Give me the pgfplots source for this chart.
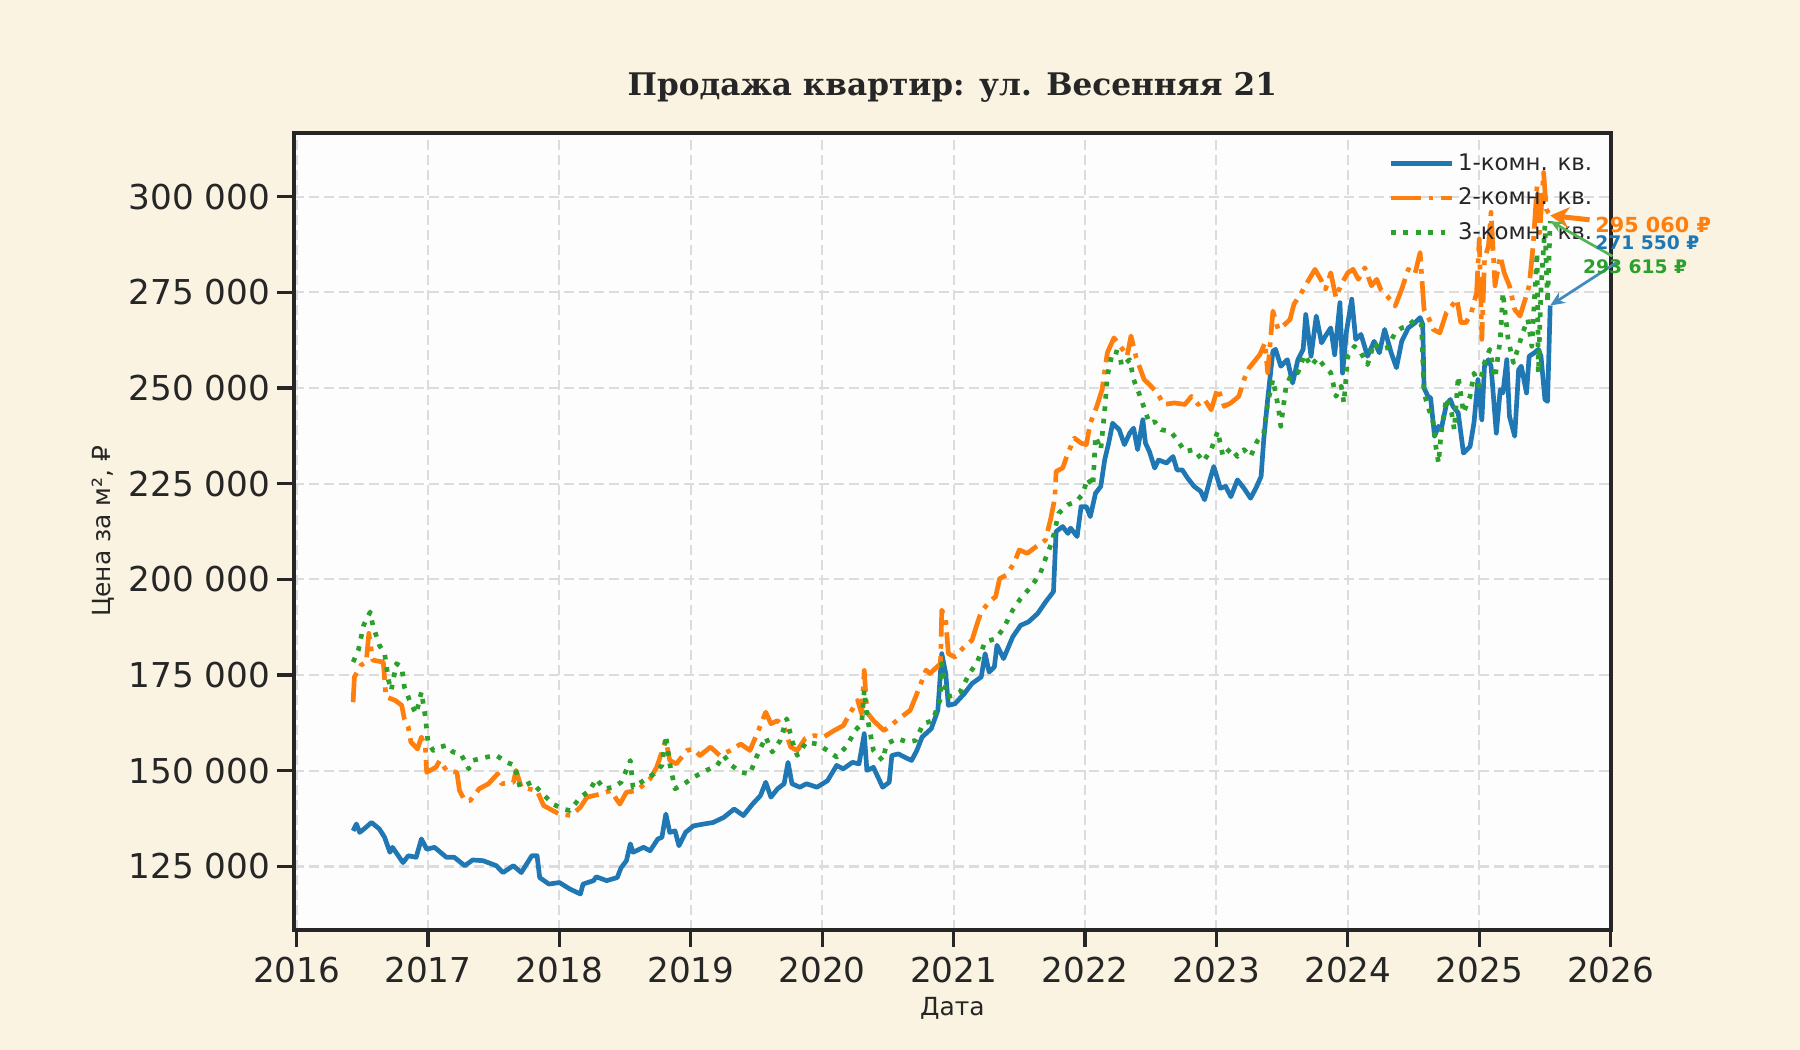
\documentclass[border=0pt]{standalone}
\usepackage{pgfplots}
\pgfplotsset{compat=1.18}
\usetikzlibrary{arrows.meta}
\usepackage{fontspec}
\setmainfont{DejaVu Sans}
\newfontfamily\titlefont{DejaVu Serif}
\definecolor{bgcream}{HTML}{FAF3E1}
\definecolor{axface}{HTML}{FDFDFD}
\definecolor{ink}{HTML}{262626}
\definecolor{gridc}{HTML}{DCDCDC}
\definecolor{c1}{HTML}{1F77B4}
\definecolor{c2}{HTML}{FF7F0E}
\definecolor{c3}{HTML}{2CA02C}

\begin{document}
\begin{tikzpicture}
\fill[bgcream] (0,0) rectangle (864bp,504bp);
\useasboundingbox (0,0) rectangle (864bp,504bp);
\begin{axis}[
  at={(141.1bp,57.6bp)}, anchor=south west,
  scale only axis, width=632bp, height=382.7bp,
  xmin=2015.98, xmax=2026.0,
  ymin=108.4, ymax=316.7,
  axis background/.style={fill=axface},
  axis line style={ink, line width=1.875bp},
  tick align=outside, xtick pos=lower, ytick pos=left,
  major tick length=8bp,
  every tick/.style={ink, line width=1.6bp},
  xtick={2016,2017,2018,2019,2020,2021,2022,2023,2024,2025,2026},
  xticklabels={2016,2017,2018,2019,2020,2021,2022,2023,2024,2025,2026},
  ytick={125,150,175,200,225,250,275,300},
  yticklabels={125 000,150 000,175 000,200 000,225 000,250 000,275 000,300 000},
  tick label style={font=\fontsize{16.5}{19}\selectfont, text=ink},
  xticklabel style={yshift=-1.5bp},
  grid=major,
  major grid style={gridc, line width=1bp, dash pattern=on 5bp off 2.2bp},
  legend style={at={(rel axis cs:1,1)}, anchor=north east, xshift=-6.7bp, yshift=-7.8bp,
    draw=none, fill=none, inner sep=0pt, row sep=3bp,
    font=\fontsize{11}{13}\selectfont, text=ink},
  legend cell align=left,
  legend image code/.code={\draw[#1] (0bp,0bp) -- (24bp,0bp); \path (0bp,0bp) -- (29bp,0bp);},
]
\addplot[c1, line width=2.25bp, line join=round] coordinates {
(2016.43,134.3) (2016.455,136.1) (2016.48,133.9) (2016.52,135.0) (2016.57,136.5)
(2016.63,134.8) (2016.67,132.6) (2016.71,128.7) (2016.73,130.0) (2016.78,127.5)
(2016.81,126.0) (2016.85,127.8) (2016.91,127.4) (2016.95,132.2) (2016.99,129.5)
(2017.05,130.0) (2017.14,127.4) (2017.20,127.4) (2017.28,125.2) (2017.34,126.7)
(2017.42,126.5) (2017.52,125.2) (2017.57,123.4) (2017.65,125.2) (2017.71,123.4)
(2017.79,127.8) (2017.83,127.8) (2017.85,122.1) (2017.92,120.4) (2018.00,120.8)
(2018.08,119.1) (2018.16,117.8) (2018.18,120.4) (2018.26,121.3) (2018.28,122.3)
(2018.36,121.3) (2018.44,122.1) (2018.47,124.7) (2018.51,126.5) (2018.54,130.9)
(2018.56,128.7) (2018.64,130.0) (2018.69,129.1) (2018.75,132.2) (2018.78,132.6)
(2018.81,138.7) (2018.84,133.9) (2018.88,134.3) (2018.91,130.4) (2018.96,133.9)
(2019.02,135.6) (2019.10,136.1) (2019.17,136.5) (2019.25,137.8) (2019.33,140.0)
(2019.40,138.3) (2019.47,141.3) (2019.53,143.5) (2019.57,147.0) (2019.61,143.1)
(2019.66,145.3) (2019.71,146.6) (2019.74,152.2) (2019.77,146.6) (2019.83,145.7)
(2019.88,146.6) (2019.96,145.7) (2020.04,147.4) (2020.11,151.4) (2020.16,150.5)
(2020.23,152.2) (2020.28,151.8) (2020.32,159.7) (2020.34,150.1) (2020.39,150.9)
(2020.46,145.7) (2020.51,147.0) (2020.53,154.0) (2020.58,154.4) (2020.63,153.5)
(2020.68,152.7) (2020.72,155.3) (2020.76,158.8) (2020.83,161.0) (2020.88,165.8)
(2020.91,180.6) (2020.94,175.4) (2020.96,167.1) (2021.01,167.5) (2021.08,170.1)
(2021.14,172.8) (2021.21,174.5) (2021.24,180.6) (2021.27,175.8) (2021.31,177.1)
(2021.33,182.8) (2021.38,179.3) (2021.45,185.0) (2021.51,188.0) (2021.57,188.9)
(2021.64,191.1) (2021.70,194.1) (2021.76,196.8) (2021.78,212.5) (2021.83,213.8)
(2021.87,212.0) (2021.89,213.4) (2021.94,211.2) (2021.97,219.0) (2022.01,219.0)
(2022.04,216.4) (2022.08,222.5) (2022.12,224.3) (2022.15,231.3) (2022.18,235.6)
(2022.21,240.8) (2022.26,239.1) (2022.30,235.2) (2022.34,238.2) (2022.37,239.5)
(2022.40,233.9) (2022.44,241.7) (2022.46,235.6) (2022.49,233.4) (2022.53,229.1)
(2022.56,231.2) (2022.62,230.4) (2022.67,232.1) (2022.70,228.6) (2022.74,228.6)
(2022.78,226.5) (2022.83,224.3) (2022.88,223.0) (2022.91,220.8) (2022.95,226.0)
(2022.98,229.5) (2023.03,223.8) (2023.07,224.3) (2023.11,221.6) (2023.16,226.0)
(2023.21,223.8) (2023.26,221.2) (2023.30,223.8) (2023.34,226.9) (2023.36,236.5)
(2023.39,247.0) (2023.43,259.6) (2023.45,260.1) (2023.49,255.7) (2023.54,257.4)
(2023.58,251.3) (2023.62,257.4) (2023.66,260.1) (2023.68,269.2) (2023.72,258.3)
(2023.76,268.8) (2023.80,261.8) (2023.83,263.6) (2023.87,265.7) (2023.90,258.7)
(2023.94,272.3) (2023.96,253.9) (2023.99,264.9) (2024.03,273.2) (2024.06,262.7)
(2024.10,264.0) (2024.15,258.3) (2024.20,262.2) (2024.24,259.2) (2024.28,265.3)
(2024.33,259.2) (2024.37,255.3) (2024.41,262.2) (2024.46,265.7) (2024.51,267.0)
(2024.55,268.4) (2024.57,266.6) (2024.58,250.0) (2024.61,247.8) (2024.63,247.4)
(2024.66,237.4) (2024.69,240.0) (2024.71,239.1) (2024.75,245.7) (2024.78,247.0)
(2024.80,245.2) (2024.84,243.5) (2024.88,233.0) (2024.93,234.7) (2024.96,240.9)
(2024.99,252.2) (2025.02,241.7) (2025.04,255.7) (2025.07,257.4) (2025.09,255.7)
(2025.13,238.2) (2025.16,249.6) (2025.18,248.7) (2025.21,257.4) (2025.23,242.6)
(2025.27,237.4) (2025.30,254.8) (2025.32,255.7) (2025.36,248.7) (2025.38,258.3)
(2025.42,259.2) (2025.45,260.1) (2025.47,258.3) (2025.50,247.0) (2025.52,246.5)
(2025.54,271.55)
};
\addlegendentry{1-комн. кв.}
\addplot[c2, line width=2.25bp, line join=round, dash pattern=on 14.4bp off 3.6bp on 2.25bp off 3.6bp] coordinates {
(2016.43,167.9) (2016.44,174.5) (2016.49,177.6) (2016.53,178.4) (2016.55,185.9)
(2016.58,178.9) (2016.66,178.4) (2016.68,169.3) (2016.75,168.4) (2016.80,167.1)
(2016.82,163.6) (2016.85,161.4) (2016.87,157.5) (2016.92,155.7) (2016.95,158.8)
(2016.98,156.2) (2016.99,149.6) (2017.06,150.9) (2017.09,152.7) (2017.14,150.1)
(2017.22,149.6) (2017.24,144.8) (2017.28,142.2) (2017.32,142.2) (2017.39,145.3)
(2017.46,146.6) (2017.53,149.2) (2017.56,146.6) (2017.65,147.0) (2017.67,150.1)
(2017.71,145.7) (2017.83,144.8) (2017.88,140.9) (2017.95,139.6) (2018.00,138.7)
(2018.09,138.3) (2018.16,140.5) (2018.21,143.1) (2018.31,143.9) (2018.39,144.8)
(2018.46,141.3) (2018.51,144.4) (2018.59,144.8) (2018.69,147.9) (2018.74,150.9)
(2018.81,157.9) (2018.84,152.7) (2018.89,151.8) (2018.97,155.3) (2019.02,155.7)
(2019.07,154.0) (2019.15,156.2) (2019.22,154.0) (2019.30,155.3) (2019.38,157.0)
(2019.45,155.3) (2019.52,161.0) (2019.57,165.3) (2019.61,162.3) (2019.66,163.1)
(2019.71,161.4) (2019.76,156.2) (2019.81,155.3) (2019.87,158.4) (2019.94,159.2)
(2020.01,158.8) (2020.09,160.5) (2020.16,161.8) (2020.21,164.9) (2020.27,168.4)
(2020.30,164.9) (2020.32,176.2) (2020.34,165.3) (2020.39,163.1) (2020.47,160.5)
(2020.52,161.8) (2020.60,164.0) (2020.67,165.8) (2020.72,170.1) (2020.79,176.3)
(2020.82,175.4) (2020.90,178.0) (2020.91,192.0) (2020.94,189.4) (2020.96,180.6)
(2021.01,179.7) (2021.08,182.4) (2021.14,184.1) (2021.18,188.5) (2021.21,191.5)
(2021.27,194.1) (2021.32,195.5) (2021.35,200.2) (2021.40,201.1) (2021.46,204.2)
(2021.50,207.7) (2021.56,206.8) (2021.63,208.6) (2021.70,210.3) (2021.74,216.0)
(2021.77,221.2) (2021.78,228.2) (2021.83,229.1) (2021.87,233.0) (2021.92,236.9)
(2021.97,235.6) (2022.01,235.2) (2022.04,240.8) (2022.09,245.2) (2022.13,249.6)
(2022.17,259.2) (2022.22,263.1) (2022.27,260.9) (2022.32,258.3) (2022.35,263.6)
(2022.39,257.9) (2022.45,252.2) (2022.49,250.9) (2022.55,248.7) (2022.60,245.7)
(2022.68,246.1) (2022.76,245.7) (2022.81,247.8) (2022.86,245.7) (2022.91,247.0)
(2022.96,244.3) (2023.01,250.0) (2023.06,245.2) (2023.11,246.1) (2023.17,247.8)
(2023.21,252.2) (2023.25,255.3) (2023.29,257.0) (2023.33,258.7) (2023.37,261.8)
(2023.39,254.0) (2023.43,270.1) (2023.47,265.3) (2023.52,266.6) (2023.56,267.9)
(2023.59,271.9) (2023.64,274.5) (2023.69,277.5) (2023.75,281.0) (2023.80,278.0)
(2023.83,275.8) (2023.87,280.1) (2023.91,273.6) (2023.95,277.1) (2024.00,280.1)
(2024.04,281.0) (2024.08,278.4) (2024.13,281.4) (2024.18,276.7) (2024.22,278.4)
(2024.25,275.8) (2024.30,274.0) (2024.36,271.4) (2024.41,275.8) (2024.46,281.0)
(2024.51,279.7) (2024.55,285.4) (2024.58,270.5) (2024.62,267.9) (2024.65,265.3)
(2024.70,264.4) (2024.75,269.7) (2024.79,271.4) (2024.83,273.2) (2024.86,267.1)
(2024.90,267.1) (2024.94,269.7) (2024.98,274.9) (2025.00,288.9) (2025.02,262.7)
(2025.04,283.6) (2025.07,287.1) (2025.09,295.9) (2025.12,276.7) (2025.16,284.5)
(2025.19,280.1) (2025.23,276.7) (2025.27,270.5) (2025.31,268.8) (2025.35,273.2)
(2025.38,276.7) (2025.41,287.1) (2025.44,302.8) (2025.46,290.6) (2025.49,306.3)
(2025.51,296.7) (2025.54,295.06)
};
\addlegendentry{2-комн. кв.}
\addplot[c3, line width=2.25bp, line join=round, dash pattern=on 2.25bp off 3.7bp] coordinates {
(2016.43,178.4) (2016.47,181.5) (2016.51,188.0) (2016.56,191.5) (2016.58,188.0)
(2016.63,182.8) (2016.67,180.6) (2016.70,173.6) (2016.72,171.0) (2016.76,178.0)
(2016.80,177.1) (2016.82,171.9) (2016.87,167.5) (2016.91,164.9) (2016.95,170.6)
(2016.98,164.0) (2017.00,157.5) (2017.04,155.3) (2017.09,156.2) (2017.14,156.6)
(2017.19,154.9) (2017.25,154.4) (2017.31,150.5) (2017.34,152.7) (2017.45,153.6)
(2017.52,154.0) (2017.60,152.2) (2017.66,151.4) (2017.70,145.7) (2017.79,147.0)
(2017.85,144.8) (2017.95,141.3) (2018.03,140.0) (2018.08,139.6) (2018.16,143.1)
(2018.23,144.8) (2018.28,147.9) (2018.34,145.3) (2018.41,145.7) (2018.47,147.0)
(2018.54,152.7) (2018.56,145.7) (2018.64,147.4) (2018.72,149.2) (2018.78,151.4)
(2018.81,159.2) (2018.84,151.8) (2018.88,145.3) (2018.95,146.6) (2019.02,148.3)
(2019.12,150.1) (2019.20,151.4) (2019.25,154.0) (2019.31,151.4) (2019.38,149.6)
(2019.45,149.2) (2019.50,153.6) (2019.57,158.8) (2019.62,154.9) (2019.68,157.9)
(2019.73,163.6) (2019.77,157.9) (2019.81,154.0) (2019.88,157.5) (2019.96,157.0)
(2020.04,155.3) (2020.11,153.6) (2020.19,156.6) (2020.25,160.5) (2020.30,162.3)
(2020.32,171.0) (2020.34,164.5) (2020.39,155.3) (2020.46,152.7) (2020.49,157.0)
(2020.57,158.4) (2020.65,157.5) (2020.71,157.9) (2020.77,162.3) (2020.84,163.1)
(2020.90,168.8) (2020.91,178.0) (2020.95,169.3) (2021.00,169.7) (2021.05,170.6)
(2021.12,175.4) (2021.18,178.4) (2021.24,183.7) (2021.32,184.5) (2021.38,187.2)
(2021.45,192.0) (2021.51,195.0) (2021.59,198.1) (2021.66,201.6) (2021.70,205.5)
(2021.75,209.9) (2021.80,217.3) (2021.87,219.5) (2021.93,220.3) (2021.98,222.1)
(2022.02,226.4) (2022.06,224.3) (2022.08,237.4) (2022.12,233.9) (2022.15,244.3)
(2022.17,253.1) (2022.21,259.6) (2022.26,259.2) (2022.28,255.7) (2022.34,257.4)
(2022.37,252.2) (2022.41,248.7) (2022.45,244.8) (2022.49,240.8) (2022.53,241.2)
(2022.58,239.1) (2022.65,238.7) (2022.70,236.5) (2022.76,233.4) (2022.83,233.9)
(2022.90,230.8) (2022.96,233.9) (2023.01,238.7) (2023.05,232.1) (2023.11,234.3)
(2023.16,232.1) (2023.21,233.9) (2023.26,232.1) (2023.31,236.1) (2023.36,238.2)
(2023.39,246.1) (2023.43,252.2) (2023.47,245.2) (2023.49,240.0) (2023.53,250.5)
(2023.57,253.5) (2023.62,254.0) (2023.67,258.7) (2023.72,255.7) (2023.77,257.9)
(2023.82,255.7) (2023.87,254.0) (2023.91,247.8) (2023.95,250.5) (2023.97,246.1)
(2024.00,258.3) (2024.05,260.9) (2024.10,259.2) (2024.15,256.1) (2024.20,261.8)
(2024.25,260.1) (2024.30,260.5) (2024.36,264.4) (2024.41,265.7) (2024.46,266.2)
(2024.51,267.9) (2024.56,266.6) (2024.58,248.7) (2024.61,245.2) (2024.65,240.9)
(2024.67,234.7) (2024.69,230.4) (2024.71,238.2) (2024.75,247.4) (2024.79,243.5)
(2024.81,239.1) (2024.84,253.1) (2024.88,243.5) (2024.93,247.8) (2024.96,253.9)
(2025.00,250.5) (2025.04,256.6) (2025.08,260.1) (2025.12,252.6) (2025.16,262.7)
(2025.18,274.9) (2025.22,262.7) (2025.26,256.6) (2025.30,260.9) (2025.33,264.4)
(2025.37,267.9) (2025.40,260.9) (2025.44,285.4) (2025.45,253.9) (2025.47,275.8)
(2025.50,292.4) (2025.52,272.3) (2025.54,293.615)
};
\addlegendentry{3-комн. кв.}
\coordinate (pO) at (axis cs:2025.54,295.06);
\coordinate (pG) at (axis cs:2025.54,293.615);
\coordinate (pB) at (axis cs:2025.54,271.55);
\end{axis}
% annotations of the last values
\draw[c2, line width=2.4bp, -{Stealth[length=9bp,width=10bp]}] (763bp,398.5bp) -- (pO);
\draw[c3!80!white, line width=1.3bp, -{Stealth[length=6bp,width=5bp]}] (774bp,381bp) -- (pG);
\draw[c1!85!white, line width=1.3bp, -{Stealth[length=7bp,width=6bp]}] (776bp,378bp) -- (pB);
\node[anchor=west, inner sep=0pt, text=c2, font=\bfseries\fontsize{10}{12}\selectfont] at (765.6bp,396.2bp) {295 060 ₽};
\node[anchor=west, inner sep=0pt, text=c1, font=\bfseries\fontsize{9}{11}\selectfont] at (765.6bp,387.5bp) {271 550 ₽};
\node[anchor=west, inner sep=0pt, text=c3, font=\bfseries\fontsize{9}{11}\selectfont] at (759.7bp,376.0bp) {293 615 ₽};
% title and axis labels
\node[anchor=base, text=ink, font=\titlefont\bfseries\fontsize{15}{18}\selectfont] at (457.1bp,458.1bp) {Продажа квартир: ул. Весенняя 21};
\node[rotate=90, text=ink, font=\fontsize{12}{14}\selectfont] at (49.6bp,249bp) {Цена за м², ₽};
\node[text=ink, font=\fontsize{12}{14}\selectfont] at (457.1bp,20.2bp) {Дата};
\end{tikzpicture}
\end{document}
